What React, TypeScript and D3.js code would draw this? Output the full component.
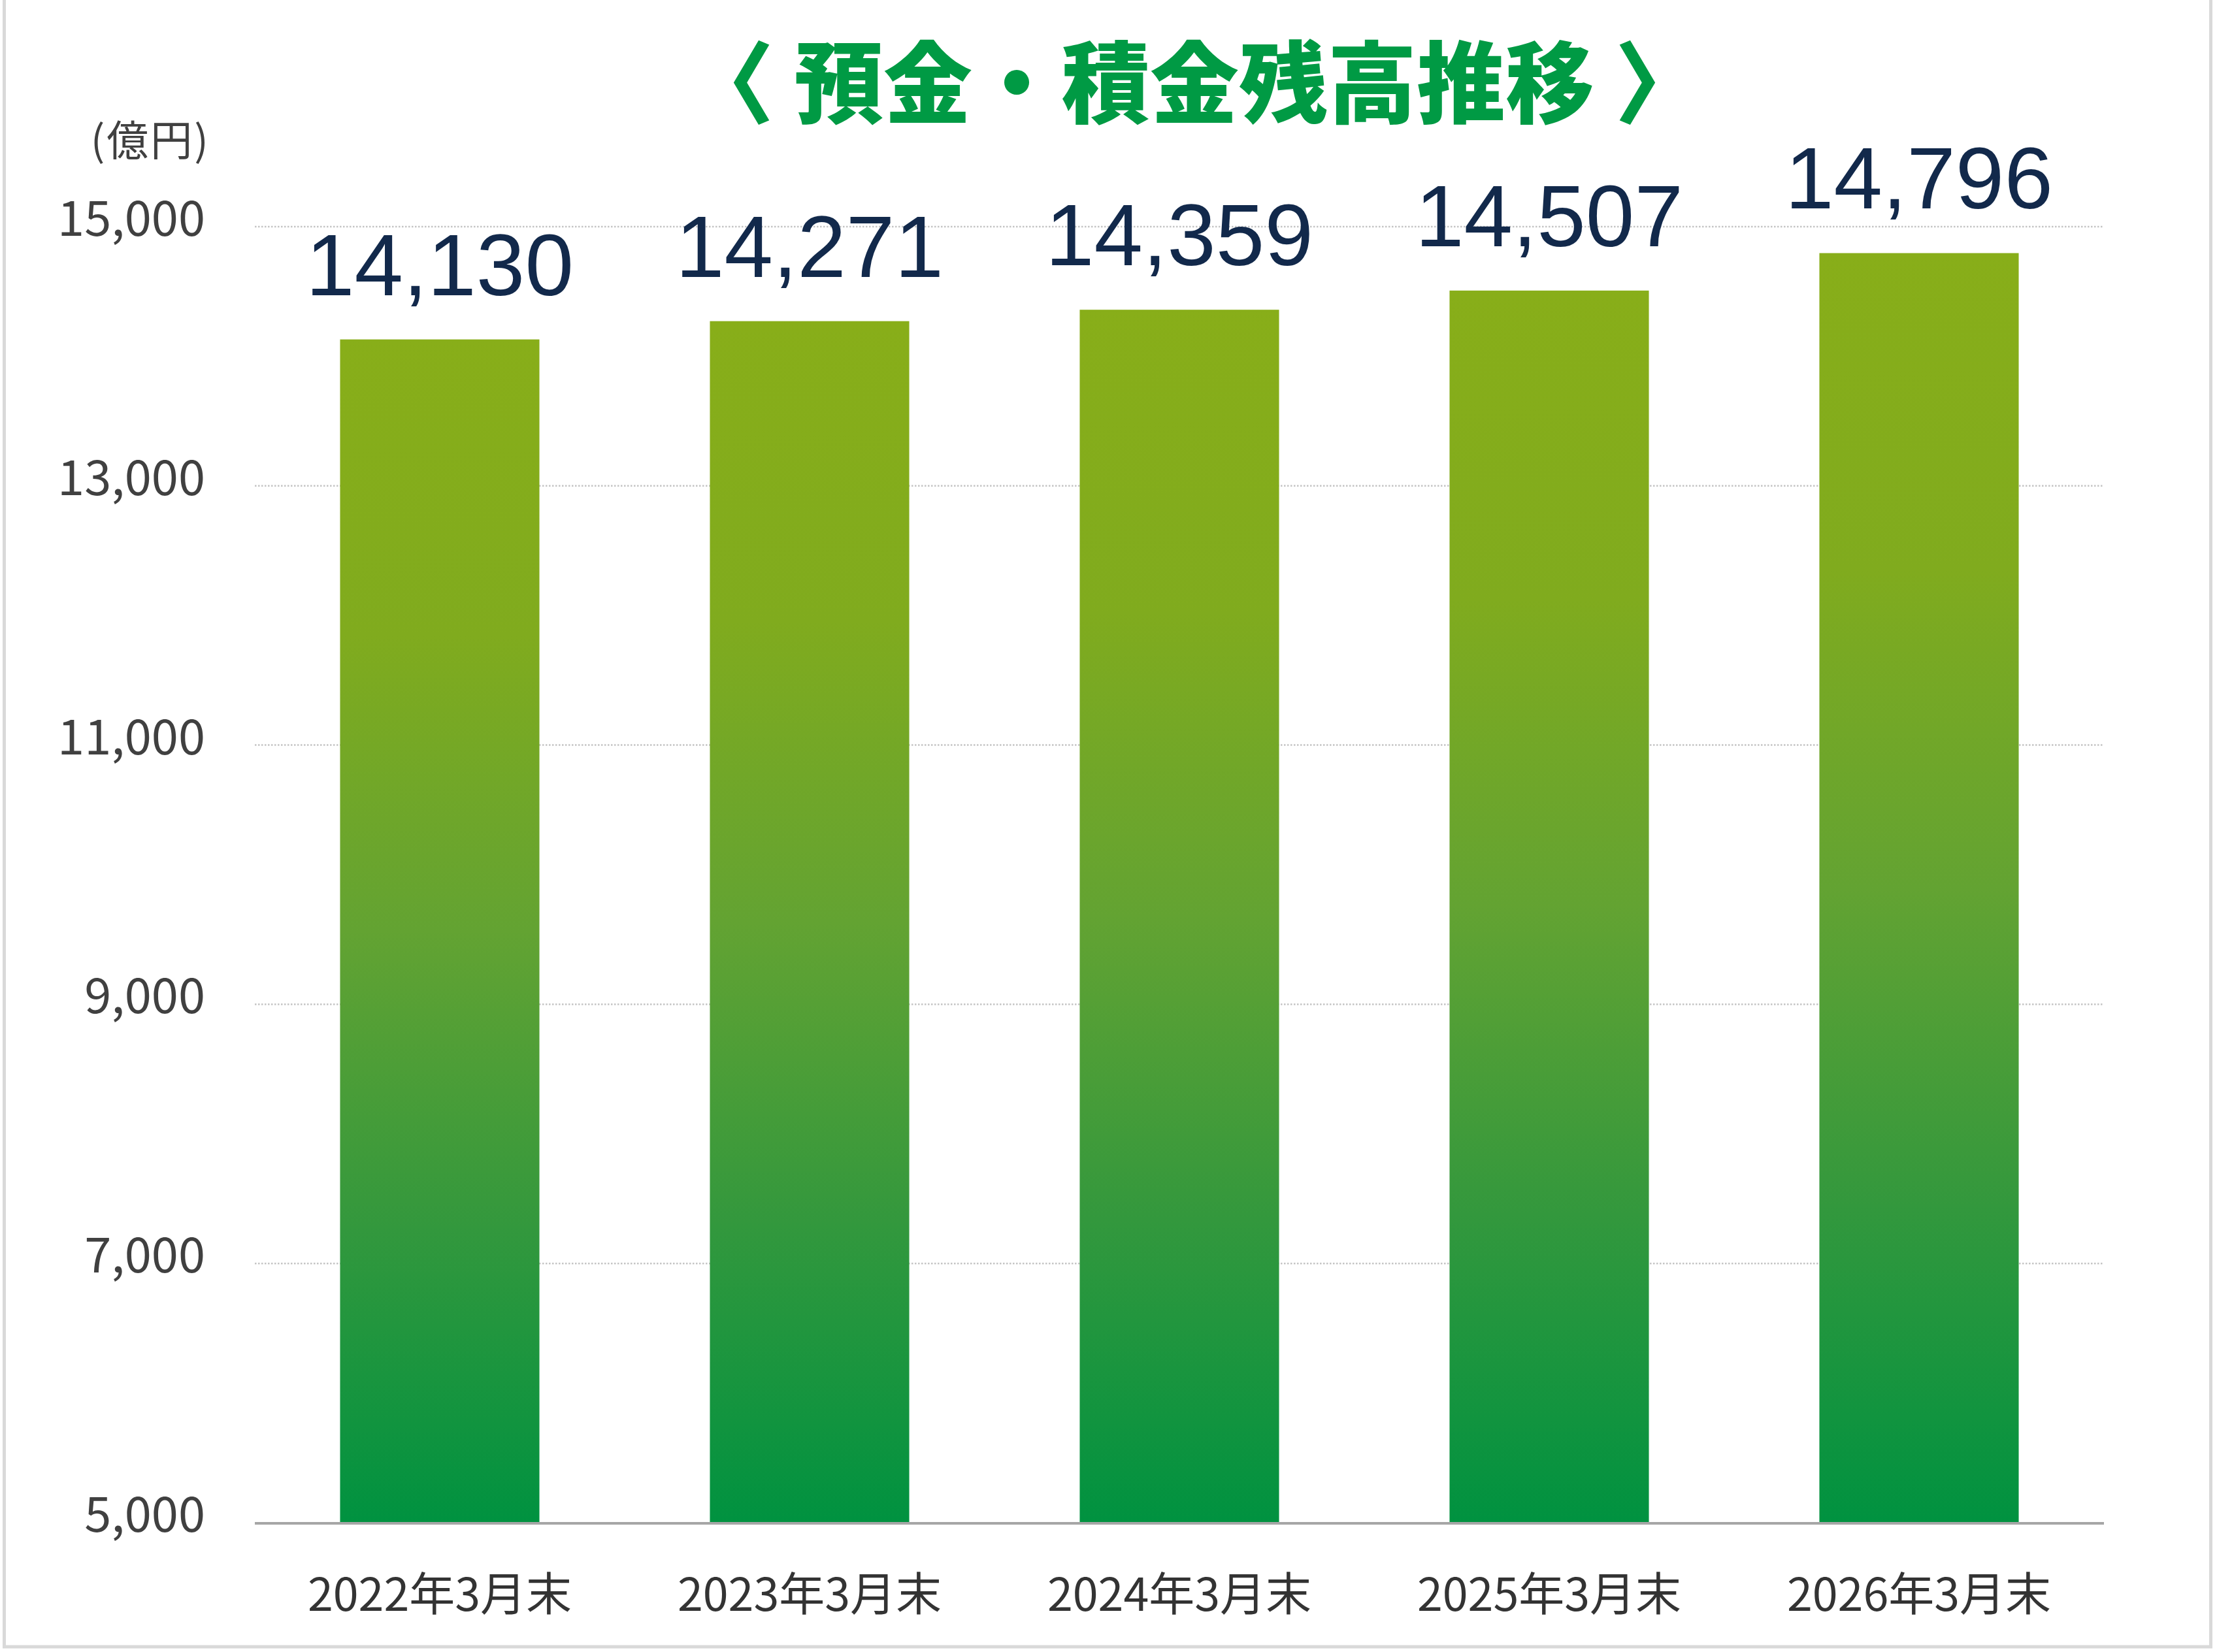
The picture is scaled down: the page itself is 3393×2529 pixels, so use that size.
import React from 'react';
import * as d3 from 'd3';

// Data

const categories: string[] = ['2022年3月末', '2023年3月末', '2024年3月末', '2025年3月末', '2026年3月末'];
const balances: number[] = [14130, 14271, 14359, 14507, 14796];
const yTicks: number[] = [5000, 7000, 9000, 11000, 13000, 15000];

const title = '〈 預金・積金残高推移 〉';
const unitLabel = '(億円)';

const W = 3393;
const H = 2529;
const plot = { left: 390, right: 3220, top: 347, bottom: 2331 };

const jpFont = '"Noto Sans CJK JP", "Noto Sans", sans-serif';

function DepositChart() {
    const x = d3.scaleBand<string>()
        .domain(categories)
        .range([plot.left, plot.right])
        .paddingInner(0.461)
        .paddingOuter(0.2305);

    const y = d3.scaleLinear()
        .domain([5000, 15000])
        .range([plot.bottom, plot.top]);

    const fmt = d3.format(',');

    return (
        <svg width={W} height={H} viewBox={`0 0 ${W} ${H}`} style={{ display: 'block', background: '#fff' }}>
            <defs>
                <linearGradient id="barGrad" x1="0" y1="0" x2="0" y2="1">
                    <stop offset="0" stopColor="#88ae19" />
                    <stop offset="0.25" stopColor="#80ab1e" />
                    <stop offset="0.5" stopColor="#63a332" />
                    <stop offset="0.75" stopColor="#33983d" />
                    <stop offset="1" stopColor="#009240" />
                </linearGradient>
            </defs>

            {/* outer frame (top edge cut off) */}
            <rect x={6.5} y={-20} width={3377} height={2541} fill="none" stroke="#d9d9d9" strokeWidth={5} />

            {/* title */}
            <text x={1828} y={178} textAnchor="middle" fontFamily={jpFont} fontWeight={900}
                fontSize={136} fill="#009a44">{title}</text>

            {/* unit */}
            <text x={322} y={238} textAnchor="end" fontFamily={jpFont} fontSize={64} fill="#404040"
                letterSpacing={3}>{unitLabel}</text>

            {/* gridlines */}
            <g>
                {yTicks.filter((t) => t !== 5000).map((t) => (
                    <line key={t} x1={plot.left} x2={plot.right} y1={y(t)} y2={y(t)}
                        stroke="#c4c4c4" strokeWidth={2.5} strokeDasharray="2.5 2.5" />
                ))}
            </g>

            {/* y tick labels */}
            <g fontFamily={jpFont} fontSize={74} fill="#404040" textAnchor="end">
                {yTicks.map((t) => (
                    <text key={t} x={314} y={y(t) + 14}>{fmt(t)}</text>
                ))}
            </g>

            {/* bars */}
            <g>
                {categories.map((c, i) => (
                    <rect key={c} x={x(c)} y={y(balances[i])} width={x.bandwidth()}
                        height={y(5000) - y(balances[i])} fill="url(#barGrad)" />
                ))}
            </g>

            {/* value labels */}
            <g fontFamily='"Liberation Sans", Arial, sans-serif' fontSize={134} fill="#12294b" textAnchor="middle">
                {categories.map((c, i) => (
                    <text key={c} x={(x(c) ?? 0) + x.bandwidth() / 2} y={y(balances[i]) - 68}>{fmt(balances[i])}</text>
                ))}
            </g>

            {/* baseline */}
            <line x1={plot.left} x2={plot.right} y1={plot.bottom + 1} y2={plot.bottom + 1} stroke="#a6a6a6" strokeWidth={4} />

            {/* x labels */}
            <g fontFamily={jpFont} fontSize={70} fill="#333333" textAnchor="middle">
                {categories.map((c) => (
                    <text key={c} x={(x(c) ?? 0) + x.bandwidth() / 2} y={2466}>{c}</text>
                ))}
            </g>
        </svg>
    );
}

export default function App() {
    return (
        <div style={{ position: 'absolute', left: 0, top: 0 }}>
            <DepositChart />
        </div>
    );
}
